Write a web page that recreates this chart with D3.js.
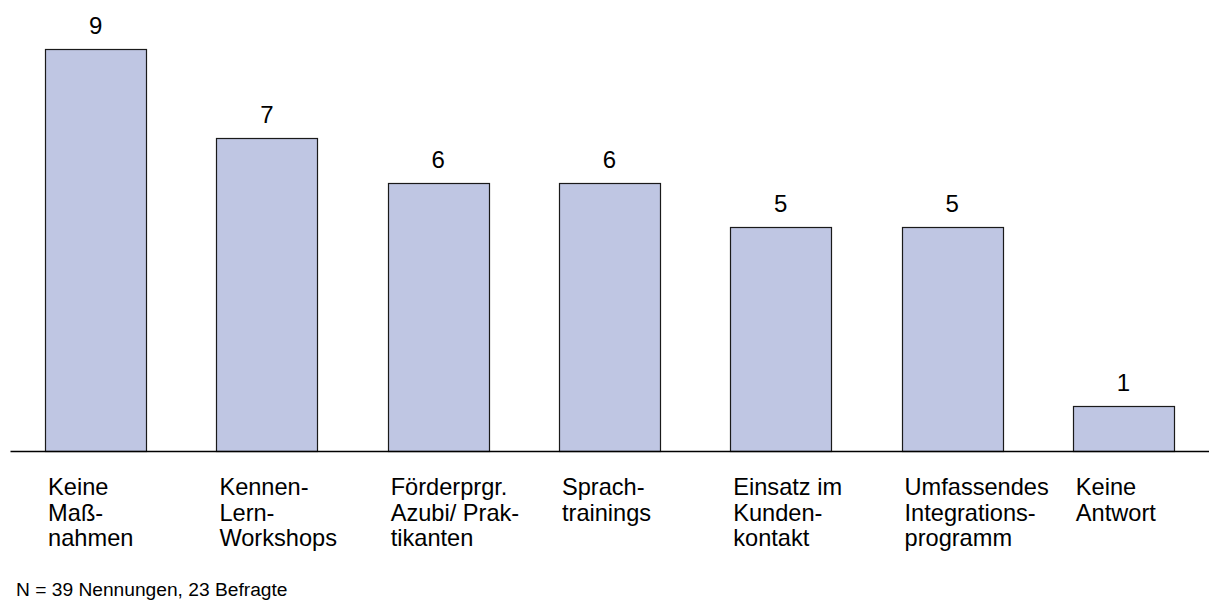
<!DOCTYPE html>
<html>
<head>
<meta charset="utf-8">
<script src="https://cdn.jsdelivr.net/npm/d3@7"></script>
<style>
  html, body { margin: 0; padding: 0; background: #fff; }
  svg { display: block; }
  text { font-family: "Liberation Sans", Arial, Helvetica, sans-serif; fill: #000; }
</style>
</head>
<body>
<svg id="chart" width="1209" height="604"></svg>
<script>
const categories = [
  ["Keine", "Maß-", "nahmen"],
  ["Kennen-", "Lern-", "Workshops"],
  ["Förderprgr.", "Azubi/ Prak-", "tikanten"],
  ["Sprach-", "trainings"],
  ["Einsatz im", "Kunden-", "kontakt"],
  ["Umfassendes", "Integrations-", "programm"],
  ["Keine", "Antwort"]
];
const values = [9, 7, 6, 6, 5, 5, 1];
const footnote = "N = 39 Nennungen, 23 Befragte";

const W = 1209, H = 604;
const svg = d3.select("#chart");

const x = d3.scaleBand()
  .domain(d3.range(values.length))
  .range([10, 1209])
  .paddingInner(0.41)
  .paddingOuter(0.205);

const y = d3.scaleLinear()
  .domain([0, 9])
  .range([451, 48.5]);

// bars
svg.append("g").selectAll("rect")
  .data(values)
  .join("rect")
  .attr("x", (d, i) => Math.round(x(i)) + 0.5)
  .attr("y", d => Math.round(y(d)) + 0.5)
  .attr("width", Math.round(x.bandwidth()))
  .attr("height", d => y(0) - Math.round(y(d)))
  .attr("fill", "#bfc6e3")
  .attr("stroke", "#1a1a1a")
  .attr("stroke-width", 1.2);

// baseline axis
const xAxis = d3.axisBottom(x).tickSize(0).tickFormat("");
const axisG = svg.append("g")
  .attr("transform", `translate(0,${y(0)})`)
  .call(xAxis);
axisG.select(".domain")
  .attr("stroke", "#000")
  .attr("stroke-width", 1.6);

// value labels
svg.append("g").selectAll("text")
  .data(values)
  .join("text")
  .attr("x", (d, i) => x(i) + x.bandwidth() / 2)
  .attr("y", d => y(d) - 15)
  .attr("text-anchor", "middle")
  .attr("font-size", "24px")
  .text(d => d);

// category labels
const lab = svg.append("g").selectAll("text")
  .data(categories)
  .join("text")
  .attr("font-size", "23.6px")
  .attr("x", (d, i) => x(i) + 3)
  .attr("y", 495);
lab.selectAll("tspan")
  .data(d => d)
  .join("tspan")
  .attr("x", function () { return d3.select(this.parentNode).attr("x"); })
  .attr("dy", (d, j) => j === 0 ? 0 : 25.5)
  .text(d => d);

// footnote
svg.append("text")
  .attr("x", 16)
  .attr("y", 596)
  .attr("font-size", "19.2px")
  .text(footnote);
</script>
</body>
</html>
